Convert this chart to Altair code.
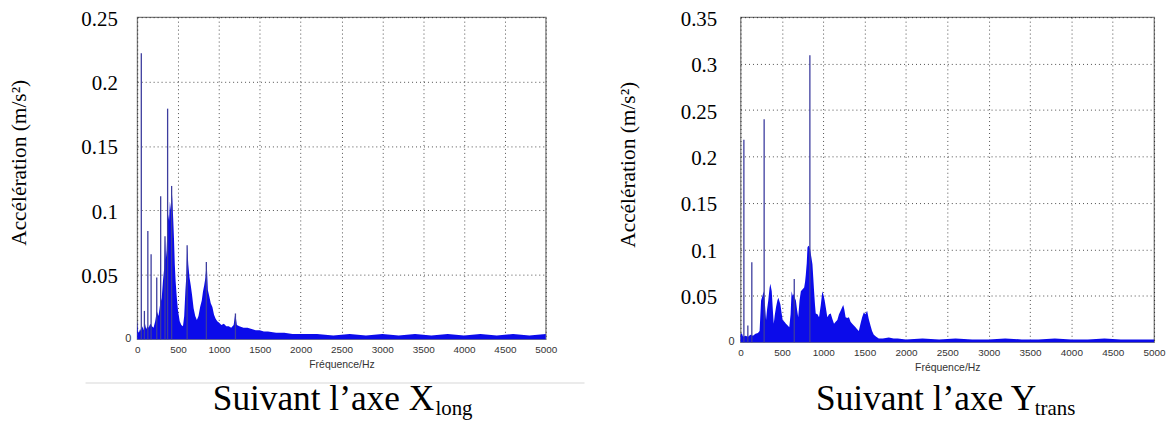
import altair as alt
import pandas as pd

# ---------------- data ----------------
X_TICKS = [0, 500, 1000, 1500, 2000, 2500, 3000, 3500, 4000, 4500, 5000]
Y_TICKS_LONG = [0.05, 0.1, 0.15, 0.2, 0.25]
Y_TICKS_TRANS = [0.05, 0.1, 0.15, 0.2, 0.25, 0.3, 0.35]
Y_ZERO = [0]

X_TITLE = "Fréquence/Hz"
Y_TITLE = "Accélération (m/s²)"
CAPTIONS = ["Suivant l\u2019axe X", "Suivant l\u2019axe Y"]
SUBSCRIPTS = ["long", "trans"]

# Longitudinal spectrum envelope (Hz, m/s^2)
LONG_F = [0, 10, 20, 35, 50, 65, 80, 95, 110, 125, 140, 160, 180, 200, 220, 240, 260, 280,
          300, 315, 330, 340, 350, 360, 370, 380, 390, 400, 410, 420, 430, 440, 450, 460,
          470, 485, 500, 520, 540, 560, 575, 590, 600, 612, 625, 640, 655, 670, 690, 710,
          730, 750, 770, 790, 805, 820, 835, 850, 865, 880, 900, 920, 940, 960, 980, 1000,
          1030, 1060, 1090, 1120, 1150, 1180, 1200, 1220, 1250, 1300, 1350, 1400, 1450,
          1500, 1550, 1600, 1700, 1800, 1900, 2000, 2200, 2400, 2600, 2800, 3000, 3200,
          3400, 3600, 3800, 4000, 4200, 4400, 4600, 4800, 5000]
LONG_A = [0.015, 0.006, 0.005, 0.008, 0.006, 0.010, 0.007, 0.012, 0.008, 0.010, 0.009, 0.012,
          0.010, 0.009, 0.014, 0.022, 0.018, 0.027, 0.032, 0.045, 0.055, 0.079, 0.062, 0.069,
          0.085, 0.097, 0.092, 0.107, 0.100, 0.118, 0.108, 0.094, 0.078, 0.058, 0.045, 0.032,
          0.022, 0.014, 0.011, 0.010, 0.018, 0.038, 0.048, 0.072, 0.058, 0.048, 0.042, 0.035,
          0.024, 0.018, 0.015, 0.018, 0.025, 0.030, 0.037, 0.042, 0.048, 0.060, 0.038, 0.034,
          0.028, 0.025, 0.019, 0.016, 0.014, 0.013, 0.011, 0.012, 0.010, 0.010, 0.009, 0.011,
          0.020, 0.011, 0.010, 0.009, 0.009, 0.008, 0.007, 0.007, 0.006, 0.006, 0.005, 0.005,
          0.004, 0.004, 0.004, 0.003, 0.004, 0.003, 0.004, 0.003, 0.004, 0.003, 0.004, 0.003,
          0.004, 0.003, 0.004, 0.003, 0.004]
# Longitudinal isolated peaks
LONG_SPIKE_F = [50, 88, 130, 170, 239, 287, 340, 372, 421, 611, 846, 1202]
LONG_SPIKE_A = [0.222, 0.022, 0.084, 0.066, 0.048, 0.111, 0.080, 0.179, 0.119, 0.073, 0.060, 0.020]

# Transverse spectrum envelope
TRANS_F = [0, 15, 30, 60, 90, 120, 150, 180, 210, 230, 248, 265, 280, 295, 308, 320, 335, 350,
           360, 377, 390, 401, 415, 429, 445, 457, 470, 481, 495, 509, 530, 549, 570, 589, 605,
           617, 630, 641, 655, 669, 683, 697, 713, 729, 750, 769, 780, 789, 800, 809, 820, 830,
           841, 855, 869, 880, 889, 900, 909, 930, 949, 970, 989, 1005, 1017, 1035, 1049, 1070,
           1090, 1110, 1130, 1150, 1170, 1190, 1210, 1230, 1242, 1255, 1270, 1290, 1310, 1330,
           1350, 1370, 1390, 1410, 1430, 1450, 1470, 1490, 1510, 1530, 1550, 1571, 1590, 1611,
           1640, 1671, 1720, 1792, 1850, 1900, 2000, 2200, 2400, 2600, 2800, 3000, 3200, 3400,
           3600, 3800, 4000, 4200, 4400, 4600, 4800, 5000]
TRANS_A = [0.008, 0.010, 0.006, 0.007, 0.006, 0.008, 0.007, 0.009, 0.010, 0.012, 0.045, 0.050,
           0.055, 0.040, 0.024, 0.035, 0.045, 0.058, 0.063, 0.055, 0.035, 0.020, 0.030, 0.038,
           0.045, 0.048, 0.044, 0.041, 0.032, 0.024, 0.022, 0.020, 0.018, 0.016, 0.030, 0.055,
           0.050, 0.052, 0.048, 0.045, 0.035, 0.027, 0.045, 0.055, 0.057, 0.059, 0.065, 0.073,
           0.085, 0.102, 0.104, 0.103, 0.100, 0.092, 0.084, 0.068, 0.055, 0.040, 0.031, 0.030,
           0.027, 0.040, 0.055, 0.050, 0.045, 0.035, 0.027, 0.030, 0.031, 0.025, 0.020, 0.022,
           0.024, 0.030, 0.034, 0.038, 0.040, 0.035, 0.027, 0.026, 0.027, 0.022, 0.020, 0.018,
           0.016, 0.014, 0.012, 0.020, 0.027, 0.032, 0.030, 0.034, 0.025, 0.018, 0.012, 0.008,
           0.006, 0.004, 0.004, 0.005, 0.004, 0.004, 0.003, 0.004, 0.003, 0.004, 0.003, 0.003,
           0.004, 0.003, 0.003, 0.004, 0.003, 0.003, 0.004, 0.003, 0.003, 0.003]
TRANS_SPIKE_F = [40, 88, 136, 285, 649, 838]
TRANS_SPIKE_A = [0.218, 0.018, 0.086, 0.240, 0.068, 0.309]

# ---------------- styling ----------------
BLUE = "#0b0bea"
SPIKE = "#3d3d9e"
SERIF = "Liberation Serif"
SANS = "Liberation Sans"


def panel(env_f, env_a, spk_f, spk_a, ymax, yticks, w, h, label_pad, title_pad, title_y,
          caption, sub, cap_x, sub_x, cap_y, sub_y, sep_line=False):
    env = pd.DataFrame({"f": env_f, "a": env_a})
    spk = pd.DataFrame({"f": spk_f, "a": spk_a})
    zero = pd.DataFrame({"a": Y_ZERO, "t": [str(v) for v in Y_ZERO]})

    x = alt.X("f:Q", scale=alt.Scale(domain=[0, 5000], nice=False, zero=False),
              axis=alt.Axis(values=X_TICKS, format="d", title=X_TITLE,
                            labelPadding=5, titlePadding=5,
                            grid=True, ticks=False, domain=False, labelFlush=False))
    y = alt.Y("a:Q", scale=alt.Scale(domain=[0, ymax], nice=False),
              axis=alt.Axis(values=yticks, format=".2~f",
                            labelPadding=label_pad, labelOffset=2,
                            title=Y_TITLE, titlePadding=title_pad, titleY=title_y,
                            titleFont=SERIF, titleFontSize=21.5,
                            grid=True, ticks=False, domain=False))

    area = alt.Chart(env).mark_area(color=BLUE, opacity=1, interpolate="linear").encode(x=x, y=y)
    rules = alt.Chart(spk).mark_rule(color=SPIKE, strokeWidth=1.3).encode(
        x=x, y=y, y2=alt.datum(0))
    zero_lbl = alt.Chart(zero).mark_text(font=SANS, fontSize=11, color="#333333",
                                         align="right", baseline="middle", dx=-6).encode(
        x=alt.value(0), y=alt.Y("a:Q"), text="t:N")
    cap_df = pd.DataFrame({"t": [caption]})
    sub_df = pd.DataFrame({"t": [sub]})
    cap = alt.Chart(cap_df).mark_text(font=SERIF, fontSize=35.5, align="left",
                                      baseline="alphabetic", color="#000000").encode(
        text="t:N", x=alt.value(cap_x), y=alt.value(cap_y))
    subt = alt.Chart(sub_df).mark_text(font=SERIF, fontSize=21, align="left",
                                       baseline="alphabetic", color="#000000").encode(
        text="t:N", x=alt.value(sub_x), y=alt.value(sub_y))
    layers = [area, rules, zero_lbl, cap, subt]
    if sep_line:
        line = alt.Chart(cap_df).mark_rule(color="#e4e4e4", strokeWidth=1.5).encode(
            x=alt.value(-52), x2=alt.value(450), y=alt.value(368))
        layers.append(line)
    return alt.layer(*layers).properties(width=w, height=h)


left = panel(LONG_F, LONG_A, LONG_SPIKE_F, LONG_SPIKE_A, 0.25, Y_TICKS_LONG, 411, 324,
             20, 50.5, 146, CAPTIONS[0], SUBSCRIPTS[0], 76, 300, 395, 400, sep_line=True)
right = panel(TRANS_F, TRANS_A, TRANS_SPIKE_F, TRANS_SPIKE_A, 0.35, Y_TICKS_TRANS, 416, 327,
              24, 40.5, 148, CAPTIONS[1], SUBSCRIPTS[1], 76, 296, 395, 400)

chart = alt.hconcat(left, right, spacing=31).properties(
    padding={"left": 0, "top": -2, "right": 0, "bottom": 0},
    background="white",
).configure_view(
    stroke="#808080", strokeWidth=1.3
).configure_axisX(
    labelFont=SANS, labelFontSize=10, labelColor="#333333",
    titleFont=SANS, titleFontSize=10.5, titleFontWeight="normal", titleColor="#333333",
    gridDash=[1, 3], gridColor="#000000", gridOpacity=0.7,
).configure_axisY(
    labelFont=SERIF, labelFontSize=21, labelColor="#000000",
    titleFont=SERIF, titleFontSize=21.5, titleFontWeight="normal", titleColor="#000000",
    gridDash=[1, 3], gridColor="#000000", gridOpacity=0.7,
)

chart.save("out.html", embed_options={"renderer": "svg", "actions": False})
